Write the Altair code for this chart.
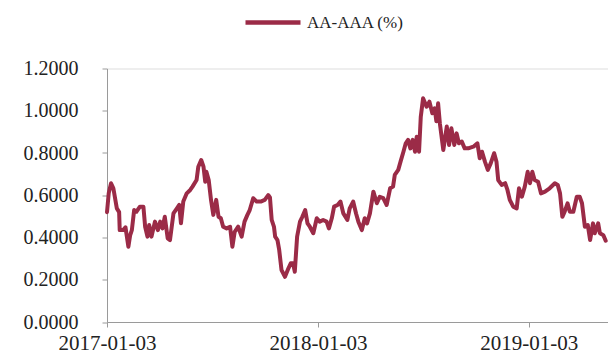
import altair as alt
import pandas as pd

series_name = "AA-AAA (%)"
start_date = "2017-01-03"
end_date = "2019-05-20"

# days after 2017-01-03 (trading-day samples)
day_offsets = [
    0, 3, 7, 11, 17, 21, 22, 28, 32, 37, 40, 43, 47, 51, 57, 63, 66, 70, 73, 77,
    83, 88, 92, 96, 100, 105, 109, 115, 121, 125, 128, 132, 138, 144, 148, 155, 158, 163, 167, 170,
    172, 176, 180, 184, 189, 193, 197, 201, 207, 213, 217, 221, 227, 233, 238, 243, 247, 253, 259, 266,
    273, 279, 282, 285, 289, 291, 295, 298, 302, 308, 314, 318, 322, 325, 329, 334, 338, 343, 347, 351,
    357, 363, 368, 374, 380, 384, 389, 393, 399, 404, 409, 416, 420, 426, 431, 435, 441, 446, 450, 455,
    461, 467, 472, 478, 484, 490, 495, 498, 504, 508, 513, 517, 521, 525, 529, 533, 536, 540, 543, 547,
    553, 558, 563, 567, 570, 573, 576, 582, 588, 592, 596, 601, 605, 609, 614, 619, 625, 634, 641, 645,
    649, 654, 659, 664, 670, 674, 677, 683, 689, 693, 697, 703, 709, 713, 718, 723, 728, 732, 736, 740,
    746, 751, 758, 766, 775, 780, 784, 788, 792, 797, 801, 807, 813, 818, 822, 827, 832, 836, 841, 844,
    850, 853, 859, 863,
]

spread_values = [
    0.520, 0.610, 0.657, 0.633, 0.538, 0.520, 0.435, 0.435, 0.448, 0.356, 0.410, 0.435, 0.530, 0.522, 0.546, 0.546, 0.451, 0.404, 0.459, 0.404,
    0.475, 0.435, 0.475, 0.443, 0.498, 0.396, 0.388, 0.514, 0.538, 0.554, 0.467, 0.570, 0.609, 0.625, 0.641, 0.672, 0.735, 0.767, 0.735, 0.664,
    0.711, 0.672, 0.578, 0.507, 0.578, 0.498, 0.491, 0.451, 0.443, 0.451, 0.356, 0.427, 0.451, 0.404, 0.475, 0.507, 0.530, 0.586, 0.570, 0.570,
    0.578, 0.601, 0.590, 0.483, 0.450, 0.404, 0.388, 0.341, 0.246, 0.214, 0.254, 0.278, 0.278, 0.238, 0.404, 0.475, 0.498, 0.530, 0.467, 0.451,
    0.420, 0.491, 0.475, 0.483, 0.475, 0.443, 0.491, 0.546, 0.554, 0.570, 0.514, 0.483, 0.538, 0.570, 0.514, 0.475, 0.435, 0.491, 0.467, 0.514,
    0.617, 0.562, 0.593, 0.586, 0.554, 0.633, 0.641, 0.696, 0.720, 0.759, 0.806, 0.846, 0.862, 0.822, 0.862, 0.806, 0.877, 0.806, 0.972, 1.059,
    1.019, 1.043, 0.988, 1.012, 0.950, 1.035, 0.941, 0.814, 0.925, 0.838, 0.917, 0.838, 0.893, 0.846, 0.854, 0.822, 0.822, 0.830, 0.846, 0.775,
    0.806, 0.759, 0.720, 0.751, 0.799, 0.759, 0.672, 0.649, 0.657, 0.625, 0.578, 0.546, 0.538, 0.633, 0.593, 0.641, 0.711, 0.657, 0.711, 0.672,
    0.664, 0.609, 0.617, 0.633, 0.657, 0.649, 0.609, 0.498, 0.522, 0.562, 0.522, 0.522, 0.593, 0.593, 0.562, 0.451, 0.459, 0.388, 0.467, 0.420,
    0.467, 0.420, 0.411, 0.385,
]

x_tick_labels = ["2017-01-03", "2018-01-03", "2019-01-03"]
y_ticks = [0.0, 0.2, 0.4, 0.6, 0.8, 1.0, 1.2]

dates = (pd.Timestamp(start_date) + pd.to_timedelta(day_offsets, unit="D")).strftime("%Y-%m-%d")
df = pd.DataFrame({"date": dates, "value": spread_values, "series": series_name})

line_color = "#9B2B47"
axis_color = "#9a9a9a"
font = "Liberation Serif"

def dt(s):
    y, m, d = (int(p) for p in s.split("-"))
    return alt.DateTime(year=y, month=m, date=d, utc=True)

chart = (
    alt.Chart(df)
    .mark_line(strokeWidth=4, strokeJoin="round", strokeCap="round")
    .encode(
        x=alt.X(
            "date:T",
            scale=alt.Scale(type="utc", domain=[dt(start_date), dt(end_date)], nice=False),
            axis=alt.Axis(
                title=None,
                values=[dt(s) for s in x_tick_labels],
                format="%Y-%m-%d",
                grid=False,
                domainColor=axis_color,
                tickColor=axis_color,
                tickSize=5,
                labelFont=font,
                labelFontSize=21,
                labelColor="#222222",
                labelPadding=5,
                labelFlush=False,
                labelOverlap=False,
            ),
        ),
        y=alt.Y(
            "value:Q",
            scale=alt.Scale(domain=[0, 1.2], nice=False),
            axis=alt.Axis(
                title=None,
                values=y_ticks,
                format=".4f",
                grid=False,
                domainColor=axis_color,
                tickColor=axis_color,
                tickSize=5,
                labelFont=font,
                labelFontSize=20,
                labelColor="#222222",
                labelPadding=24,
            ),
        ),
        color=alt.Color(
            "series:N",
            scale=alt.Scale(range=[line_color]),
            legend=alt.Legend(
                title=None,
                orient="none",
                legendX=136,
                legendY=-76,
                symbolType="stroke",
                symbolSize=3025,
                symbolStrokeWidth=4.5,
                labelFont=font,
                labelFontSize=17,
                labelColor="#222222",
                labelOffset=4,
                padding=0,
            ),
        ),
    )
    .properties(
        width=501,
        height=253.5,
        autosize=alt.AutoSizeParams(type="none"),
        padding={"left": 107, "top": 68.5, "right": 0, "bottom": 32},
    )
    .configure_view(stroke=None)
    .configure(background="white")
)

chart.save("out.html", embed_options={"renderer": "svg", "actions": False})
